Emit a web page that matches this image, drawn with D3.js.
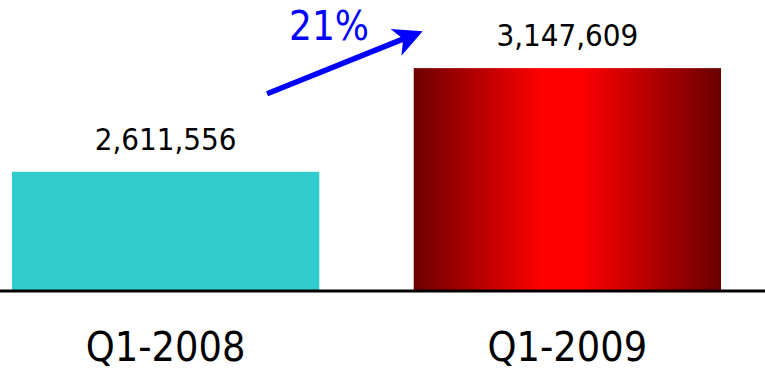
<!DOCTYPE html>
<html>
<head>
<meta charset="utf-8">
<script src="https://cdn.jsdelivr.net/npm/d3@7"></script>
<style>
  body { margin: 0; background: #fff; }
  svg text { font-family: "DejaVu Sans Condensed", "DejaVu Sans", sans-serif; font-stretch: condensed; }
</style>
</head>
<body>
<svg id="chart"></svg>
<script>
// chart data
const categories = ["Q1-2008", "Q1-2009"];
const values = [2611556, 3147609];
const growthLabel = "21%";

const width = 765, height = 370;
const baseY = 290;

const svg = d3.select("#chart")
    .attr("width", width)
    .attr("height", height);

const x = d3.scaleBand()
    .domain(categories)
    .range([12, 721])
    .paddingInner(0.235)
    .paddingOuter(0);

// value axis does not start at zero in the original
const y = d3.scaleLinear()
    .domain([2000000, 3500000])
    .range([baseY, 0]);

const defs = svg.append("defs");
const grad = defs.append("linearGradient")
    .attr("id", "redGrad")
    .attr("x1", "0%").attr("x2", "100%")
    .attr("y1", "0%").attr("y2", "0%");
[["0%", "#6e0000"], ["42%", "#ff0000"], ["54%", "#ff0000"], ["100%", "#6a0000"]]
    .forEach(s => grad.append("stop").attr("offset", s[0]).attr("stop-color", s[1]));

const fills = ["#33cccc", "url(#redGrad)"];

svg.selectAll("rect.bar")
    .data(values)
    .join("rect")
    .attr("class", "bar")
    .attr("x", (d, i) => x(categories[i]))
    .attr("width", x.bandwidth())
    .attr("y", d => y(d))
    .attr("height", d => baseY - y(d))
    .attr("fill", (d, i) => fills[i]);

// baseline
svg.append("line")
    .attr("x1", 0).attr("x2", width)
    .attr("y1", baseY + 1).attr("y2", baseY + 1)
    .attr("stroke", "#000")
    .attr("stroke-width", 3);

// value labels
svg.selectAll("text.val")
    .data(values)
    .join("text")
    .attr("class", "val")
    .attr("x", (d, i) => x(categories[i]) + x.bandwidth() / 2)
    .attr("y", d => y(d) - 22)
    .attr("text-anchor", "middle")
    .attr("font-size", 31)
    .attr("fill", "#000")
    .text(d => d3.format(",")(d));

// category labels
svg.selectAll("text.cat")
    .data(categories)
    .join("text")
    .attr("class", "cat")
    .attr("x", d => x(d) + x.bandwidth() / 2)
    .attr("y", 361)
    .attr("text-anchor", "middle")
    .attr("font-size", 41)
    .attr("fill", "#000")
    .text(d => d);

// growth arrow between the bars
const x0 = x(categories[0]) + x.bandwidth() * 0.83;
const y0 = y(values[0]) - 78;
const x1 = x(categories[1]) + 9;
const y1 = y(values[1]) - 37;
const ang = Math.atan2(y1 - y0, x1 - x0) * 180 / Math.PI;
const len = Math.hypot(x1 - x0, y1 - y0);

const arrow = svg.append("g")
    .attr("transform", `translate(${x0},${y0}) rotate(${ang})`);
arrow.append("line")
    .attr("x1", 0).attr("y1", 0)
    .attr("x2", len - 18).attr("y2", 0)
    .attr("stroke", "#0000ff")
    .attr("stroke-width", 5.5);
arrow.append("path")
    .attr("d", `M${len},0 L${len - 29},-14 L${len - 21},0 L${len - 29},15 Z`)
    .attr("fill", "#0000ff");

svg.append("text")
    .attr("x", 329)
    .attr("y", 40)
    .attr("text-anchor", "middle")
    .attr("font-size", 40)
    .attr("fill", "#0000ff")
    .text(growthLabel);
</script>
</body>
</html>
